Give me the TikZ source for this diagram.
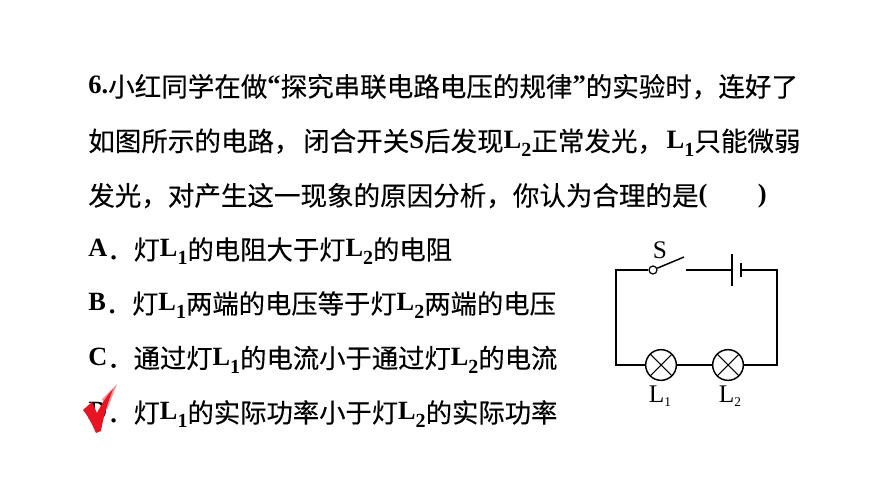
\documentclass[tikz,border=0pt]{standalone}
\usepackage{fontspec}
\setmainfont[FakeBold=0.2]{Noto Sans CJK SC}
\newfontfamily\latinfont{Liberation Serif}
\newcommand{\lat}[1]{\raisebox{1.9pt}{\latinfont\bfseries #1}}
\newcommand{\lampname}[1]{\raisebox{1.9pt}{\latinfont\bfseries L\raisebox{-0.3em}{\fontsize{15}{15}\selectfont #1}}}
\newcommand{\wirename}[2]{{\latinfont #1\raisebox{-0.15em}{\fontsize{10}{10}\selectfont #2}}}
\definecolor{tickred}{RGB}{232,20,35}
\definecolor{ticklight}{RGB}{246,150,150}
\tikzset{
	textline/.style={
		anchor=base west,
		inner sep=0pt,
		font=\fontsize{19.9}{24}\selectfont},
	optionline/.style={
		anchor=base west,
		inner sep=0pt,
		font=\fontsize{19.75}{24}\selectfont},
	circuitlabel/.style={
		inner sep=0pt,
		font=\fontsize{19}{22}\selectfont},
	wire/.style={
		line width=1.1pt},
	plate/.style={
		line width=1.5pt},
	lamp/.style={
		circle,
		draw,
		line width=1.1pt,
		minimum size=23pt,
		inner sep=0pt,
		path picture={
			\draw [line width=0.8pt] (path picture bounding box.north west) -- (path picture bounding box.south east);
			\draw [line width=0.8pt] (path picture bounding box.north east) -- (path picture bounding box.south west);}
	},
	pivot/.style={
		circle,
		draw,
		line width=0.9pt,
		minimum size=6pt,
		inner sep=0pt}
}
\begin{document}
\begin{tikzpicture}[x=0.75pt,y=0.75pt,yscale=-1,xscale=1]
\useasboundingbox (0,0) rectangle (870,489);

\draw (88,96.5) node [textline] (line1) {\lat{6.}小红同学在做\lat{“}探究串联电路电压的规律\lat{”}的实验时，连好了};
\draw (88,151) node [textline] (line2) {如图所示的电路，\hspace{2pt}闭合开关\lat{S}后发现\lampname{2}正常发光，\hspace{2pt}\lampname{1}只能微弱};
\draw (88,205.5) node [textline] (line3) {发光，对产生这一现象的原因分析，你认为合理的是\lat{(\hspace{1.9em})}};
\draw (88,259.5) node [optionline] (optA) {\lat{A}．灯\lampname{1}的电阻大于灯\lampname{2}的电阻};
\draw (88,313.5) node [optionline] (optB) {\lat{B}．灯\lampname{1}两端的电压等于灯\lampname{2}两端的电压};
\draw (88,368) node [optionline] (optC) {\lat{C}．通过灯\lampname{1}的电流小于通过灯\lampname{2}的电流};
\draw (88,422.5) node [optionline] (optD) {\lat{D}．灯\lampname{1}的实际功率小于灯\lampname{2}的实际功率};

\draw (661,365) node [lamp] (lampA) {};
\draw (728,365) node [lamp] (lampB) {};
\draw (653,270) node [pivot] (swPivot) {};
\coordinate (swTip) at (684,257);
\coordinate (swEnd) at (686,270);
\coordinate (cornerTL) at (616,270);
\coordinate (cornerTR) at (777,270);
\coordinate (cornerBL) at (616,365);
\coordinate (cornerBR) at (777,365);
\coordinate (plateA) at (732,270);
\coordinate (plateB) at (741,270);

\draw (660,250) node [circuitlabel] (labelS) {\latinfont S};
\draw (660,396.5) node [circuitlabel] (labelA) {\wirename{L}{1}};
\draw (730,396.5) node [circuitlabel] (labelB) {\wirename{L}{2}};

\draw [wire] (swPivot) -- (cornerTL) -- (cornerBL) -- (lampA);
\draw [wire] (lampA) -- (lampB);
\draw [wire] (lampB) -- (cornerBR) -- (cornerTR) -- (plateB);
\draw [wire] (swEnd) -- (plateA);
\draw [wire] (swPivot) -- (swTip);
\draw [plate] ([yshift=-12pt]plateA) -- ([yshift=12pt]plateA);
\draw [plate,line width=2pt] ([yshift=-5.6pt]plateB) -- ([yshift=5.6pt]plateB);

%tick over the last option
\fill [ticklight] (102,399) -- (117,384) -- (107,410) -- cycle;
\fill [tickred] (83,410) -- (92,402) -- (97,413) .. controls (101,405) and (106,397) .. (113,389) .. controls (108,402) and (103,418) .. (101,431) -- (96,433) .. controls (92,424) and (88,416) .. (83,410) -- cycle;
\end{tikzpicture}
\end{document}
